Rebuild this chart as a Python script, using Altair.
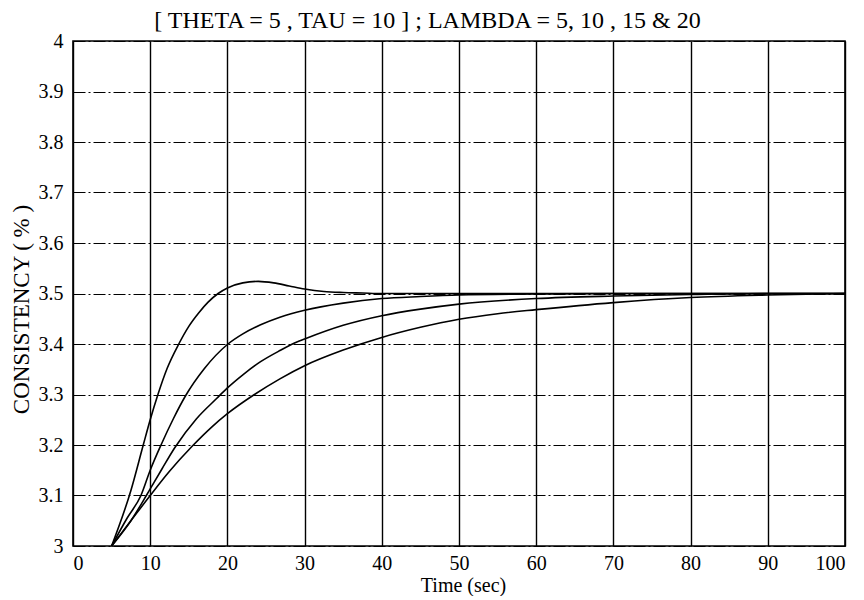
import altair as alt
import pandas as pd

# ---- data ----
lambdas = [5, 10, 15, 20]

t5 = [5, 7.5, 9.1, 10, 11, 12.2, 13.7, 15, 16.3, 17.5, 18.8, 20, 22, 24, 26, 28, 30, 32.5, 35, 37.5, 40, 50, 60, 70, 80, 90, 100]
v5 = [3.0, 3.11, 3.2, 3.25, 3.3, 3.352, 3.4, 3.435, 3.462, 3.483, 3.5, 3.511, 3.521, 3.524, 3.521, 3.515, 3.509, 3.504, 3.502, 3.501, 3.5, 3.5, 3.5, 3.5, 3.5, 3.5, 3.5]

t10 = [5, 7, 8.8, 10, 11.4, 13, 14.6, 17, 20, 22, 24.3, 26.8, 30, 35, 40, 45, 50, 60, 70, 80, 90, 100]
v10 = [3.0, 3.055, 3.1, 3.15, 3.2, 3.252, 3.298, 3.351, 3.399, 3.42, 3.438, 3.453, 3.467, 3.481, 3.49, 3.494, 3.497, 3.499, 3.5, 3.5, 3.5, 3.5]

t15 = [5, 7.5, 9.5, 10, 11.5, 13.2, 16, 18.6, 20, 22, 24.3, 26.8, 29, 30, 35, 40, 45, 50, 60, 70, 80, 90, 100]
v15 = [3.0, 3.05, 3.1, 3.113, 3.152, 3.195, 3.252, 3.292, 3.313, 3.339, 3.365, 3.387, 3.404, 3.41, 3.437, 3.456, 3.469, 3.479, 3.49, 3.495, 3.498, 3.5, 3.5]

t20 = [5, 7.5, 10, 12.5, 15.4, 18, 20, 23.5, 26.8, 30, 35, 40, 45, 50, 55, 60, 70, 80, 90, 100]
v20 = [3.0, 3.05, 3.1, 3.148, 3.197, 3.236, 3.262, 3.3, 3.331, 3.357, 3.388, 3.413, 3.433, 3.449, 3.46, 3.468, 3.482, 3.492, 3.497, 3.5]

x_ticks = [0, 10, 20, 30, 40, 50, 60, 70, 80, 90, 100]
y_ticks = [3.0, 3.1, 3.2, 3.3, 3.4, 3.5, 3.6, 3.7, 3.8, 3.9, 4.0]

title_text = "[ THETA = 5 , TAU = 10 ] ; LAMBDA = 5, 10 , 15 & 20"
x_title = "Time (sec)"
y_title = "CONSISTENCY ( % )"

rows = []
for lam, ts, vs in zip(lambdas, [t5, t10, t15, t20], [v5, v10, v15, v20]):
    for t, v in zip(ts, vs):
        rows.append({"lambda": lam, "t": t, "v": v})
df = pd.DataFrame(rows)

FONT = "Liberation Serif"
xscale = alt.Scale(domain=[0, 100], nice=False, zero=False)
yscale = alt.Scale(domain=[3, 4], nice=False, zero=False)

y_axis = alt.Axis(
    values=y_ticks, format=".1~f", title=y_title,
    grid=True, gridColor="black", gridWidth=1.2, gridOpacity=1, gridDash=[12, 3, 2, 3],
    ticks=False, domain=False, labelFlush=False,
    labelFont=FONT, labelFontSize=20, labelColor="black", labelPadding=10,
    titleFont=FONT, titleFontSize=23, titleFontWeight="normal", titleColor="black",
    titleX=-52, titleY=268, titleAngle=-90, titleBaseline="middle",
)

base = alt.Chart(df)

lines = base.mark_line(
    color="black", strokeWidth=1.6, interpolate="monotone"
).encode(
    x=alt.X(
        "t:Q", scale=xscale,
        axis=alt.Axis(
            values=x_ticks, format="d", title=x_title,
            grid=True, gridColor="black", gridWidth=1.4, gridOpacity=1,
            ticks=False, domain=False, labelFlush=True,
            labelFont=FONT, labelFontSize=20, labelColor="black", labelPadding=7,
            titleFont=FONT, titleFontSize=20, titleFontWeight="normal", titleColor="black",
            titleX=390, titleY=39, titleBaseline="middle",
        ),
    ),
    y=alt.Y("v:Q", scale=yscale, axis=y_axis),
    detail="lambda:N",
)

# top axis carrying the chart title
top = base.mark_line(opacity=0).encode(
    x=alt.X(
        "t:Q", scale=xscale,
        axis=alt.Axis(
            orient="top", labels=False, ticks=False, domain=False, grid=False,
            title=title_text, titleFont=FONT, titleFontSize=24, titleFontWeight="normal",
            titleColor="black", titleX=354, titleY=-14, titleBaseline="alphabetic",
            titleAlign="center",
        ),
    ),
    y=alt.Y("v:Q", scale=yscale, axis=y_axis),
    detail="lambda:N",
)

chart = alt.layer(lines, top).resolve_axis(x="independent").properties(
    width=772,
    height=505,
    padding={"left": 65, "top": 33, "right": 11, "bottom": 50},
    autosize=alt.AutoSizeParams(type="none"),
).configure_view(stroke="black", strokeWidth=1.6)

chart.save("out.html", embed_options={"renderer": "svg", "actions": False})
